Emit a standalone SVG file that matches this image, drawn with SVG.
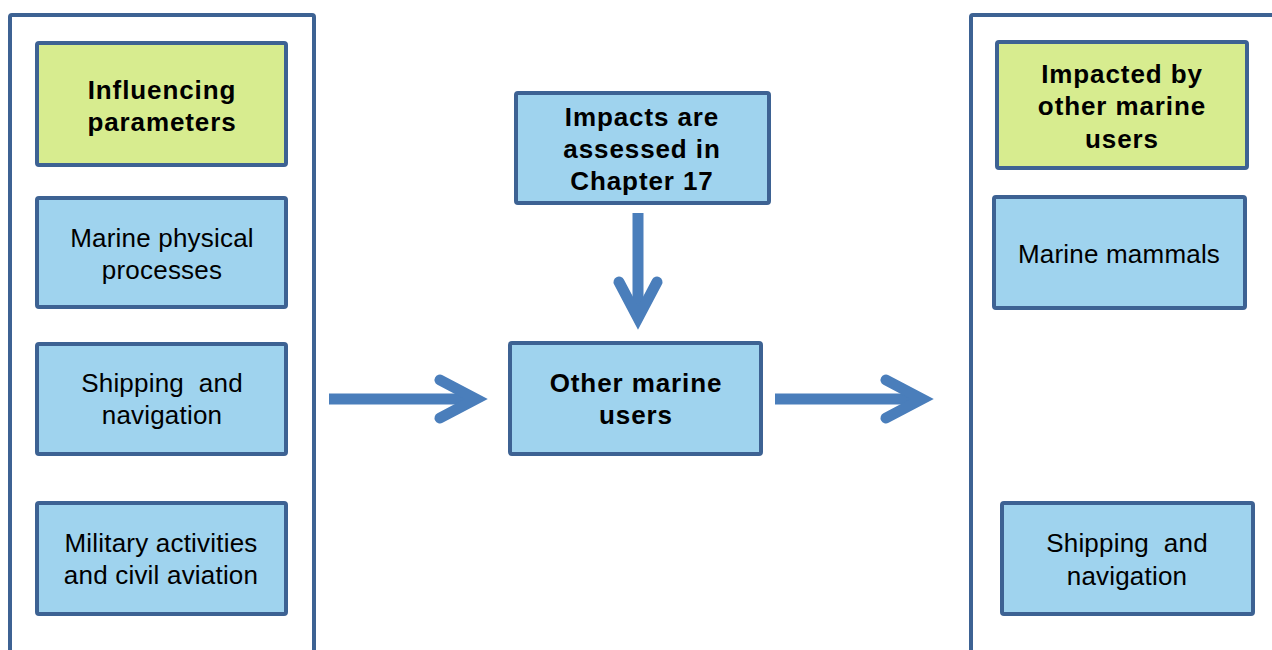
<svg xmlns="http://www.w3.org/2000/svg" width="1272" height="650" viewBox="0 0 1272 650">
  <style>
    .frame { fill: #ffffff; stroke: #3d6293; stroke-width: 4; }
    .box { stroke: #3d6293; stroke-width: 4; }
    .blue { fill: #9fd3ee; }
    .green { fill: #d7ec8f; }
    text { font-family: "Liberation Sans", Arial, sans-serif; font-size: 26px; letter-spacing: 0.2px; fill: #000000; text-anchor: middle; white-space: pre; }
    .b { font-weight: bold; font-size: 26px; letter-spacing: 0.9px; }
    .arrow { fill: none; stroke: #4a7ebb; stroke-width: 11; }
    .head { fill: none; stroke: #4a7ebb; stroke-width: 11; stroke-linecap: round; stroke-linejoin: miter; }
  </style>

  <rect width="1272" height="650" fill="#ffffff"/>

  <!-- column frames (open at the page edges) -->
  <g id="frame-left">
    <rect class="frame" x="10" y="15" width="304" height="660" rx="2"/>
  </g>
  <g id="frame-right">
    <rect class="frame" x="971" y="15" width="340" height="660" rx="2"/>
  </g>

  <!-- left column -->
  <g id="influencing">
    <rect class="box green" x="37" y="43" width="249" height="122" rx="2"/>
    <text class="b" x="162" y="99">Influencing</text>
    <text class="b" x="162" y="131">parameters</text>
  </g>
  <g id="physical">
    <rect class="box blue" x="37" y="198" width="249" height="109" rx="2"/>
    <text x="162" y="247">Marine physical</text>
    <text x="162" y="279">processes</text>
  </g>
  <g id="shipping-left">
    <rect class="box blue" x="37" y="344" width="249" height="110" rx="2"/>
    <text x="162" y="392">Shipping  and</text>
    <text x="162" y="424">navigation</text>
  </g>
  <g id="military">
    <rect class="box blue" x="37" y="503" width="249" height="111" rx="2"/>
    <text x="161" y="552">Military activities</text>
    <text x="161" y="584">and civil aviation</text>
  </g>

  <!-- centre -->
  <g id="chapter17">
    <rect class="box blue" x="516" y="93" width="253" height="110" rx="2"/>
    <text class="b" x="642" y="126">Impacts are</text>
    <text class="b" x="642" y="158">assessed in</text>
    <text class="b" x="642" y="190">Chapter 17</text>
  </g>
  <g id="other-users">
    <rect class="box blue" x="510" y="343" width="251" height="111" rx="2"/>
    <text class="b" x="636" y="392">Other marine</text>
    <text class="b" x="636" y="424">users</text>
  </g>

  <!-- right column -->
  <g id="impacted">
    <rect class="box green" x="997" y="42" width="250" height="126" rx="2"/>
    <text class="b" x="1122" y="83">Impacted by</text>
    <text class="b" x="1122" y="115">other marine</text>
    <text class="b" x="1122" y="148">users</text>
  </g>
  <g id="mammals">
    <rect class="box blue" x="994" y="197" width="251" height="111" rx="2"/>
    <text x="1119" y="263">Marine mammals</text>
  </g>
  <g id="shipping-right">
    <rect class="box blue" x="1002" y="503" width="251" height="111" rx="2"/>
    <text x="1127" y="552">Shipping  and</text>
    <text x="1127" y="585">navigation</text>
  </g>

  <!-- connectors -->
  <g id="connectors">
    <line class="arrow" x1="329" y1="399" x2="474" y2="399"/>
    <polyline class="head" points="440,380 476,399 440,418"/>
    <line class="arrow" x1="775" y1="399" x2="920" y2="399"/>
    <polyline class="head" points="886,380 922,399 886,418"/>
    <line class="arrow" x1="638" y1="213" x2="638" y2="316"/>
    <polyline class="head" points="619,282 638,318 657,282"/>
  </g>
</svg>
